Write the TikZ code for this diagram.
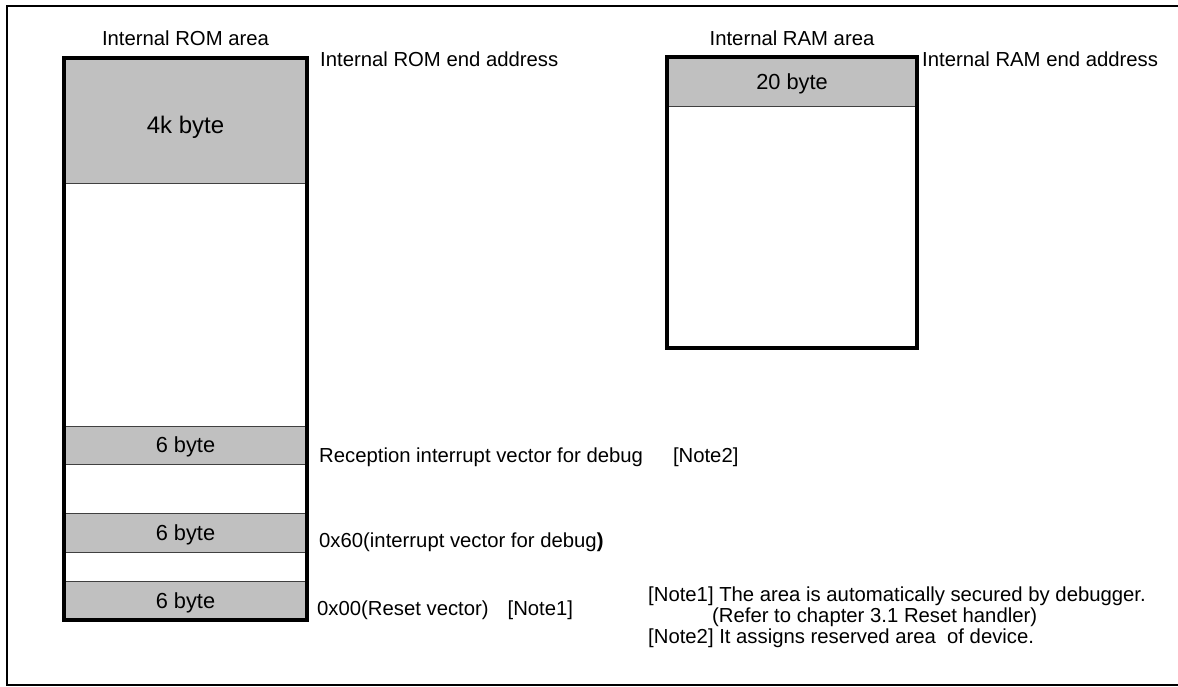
\documentclass[tikz,border=0pt]{standalone}
\usepackage{fontspec}
\setmainfont{Liberation Sans}
\usetikzlibrary{positioning}
\definecolor{cellgray}{RGB}{192,192,192}
\tikzset{
  mapfont/.style={font=\fontsize{20.3}{24}\selectfont},
  cellfont/.style={font=\fontsize{21.8}{26}\selectfont},
  memcell/.style={
    rectangle, inner sep=0pt, outer sep=0pt,
    minimum width=#1, text height=15.6pt, text depth=0pt,
    draw=black!75, line width=0.9pt, cellfont
  },
  usedcell/.style={memcell=#1, fill=cellgray},
  freecell/.style={memcell=#1, fill=white},
  mapborder/.style={draw=black, line width=3.6pt},
  maplabel/.style={anchor=base west, inner sep=0pt, mapfont},
  maptitle/.style={anchor=base, inner sep=0pt, mapfont},
}

\begin{document}
\begin{tikzpicture}[x=1pt,y=-1pt]
  \useasboundingbox (0,0) rectangle (1178,686);
  \draw[line width=1.5pt] (1178,6) -| (7,685) -- (1178,685);
  % internal ROM
  \node[usedcell=243pt,minimum height=125pt,font=\fontsize{24}{28}\selectfont,text height=25pt](r4k)at(185.5,120.5){4k byte};
  \node[freecell=243pt,minimum height=243pt](rfree1)at(185.5,304.5){};
  \node[usedcell=243pt,minimum height=38pt] (rrecv) at(185.5,445)  {6 byte};
  \node[freecell=243pt,minimum height=49pt] (rfree2)at(185.5,488.5){};
  \node[usedcell=243pt,minimum height=39pt] (rdbg)  at(185.5,532.5){6 byte};
  \node[freecell=243pt,minimum height=29pt] (rfree3)at(185.5,566.5){};
  \node[usedcell=243pt,minimum height=39pt] (rreset)at(185.5,600.5){6 byte};
  \draw[mapborder](r4k.north west) rectangle (rreset.south east);
  \node[maptitle](romtitle)at(185.5,45){Internal ROM area};
  \node[maplabel](romend)  at(320,66)  {Internal ROM end address};
  \node[maplabel](recvtxt) at(319,462) {Reception interrupt vector for debug\hspace{30pt}[Note2]};
  \node[maplabel](dbgtxt)  at(319,547) {0x60(interrupt vector for debug\textbf{)}};
  \node[maplabel](resettxt)at(317,615) {0x00(Reset vector)\hspace{19pt}[Note1]};
  % internal RAM
  \node[usedcell=250pt,minimum height=49pt] (a20)  at(792,81.5){20 byte};
  \node[freecell=250pt,minimum height=242pt](afree)at(792,227) {};
  \draw[mapborder](a20.north west) rectangle (afree.south east);
  \node[maptitle](ramtitle)at(792,45){Internal RAM area};
  \node[maplabel](ramend)  at(922,66){Internal RAM end address};
  % notes
  \node[maplabel](note1)  at(648,601){[Note1] The area is automatically secured by debugger.};
  \node[maplabel](note1b) at(712,622){(Refer to chapter 3.1 Reset handler)};
  \node[maplabel](note2)  at(648,643){[Note2] It assigns reserved area\ \ of device.};
\end{tikzpicture}
\end{document}
